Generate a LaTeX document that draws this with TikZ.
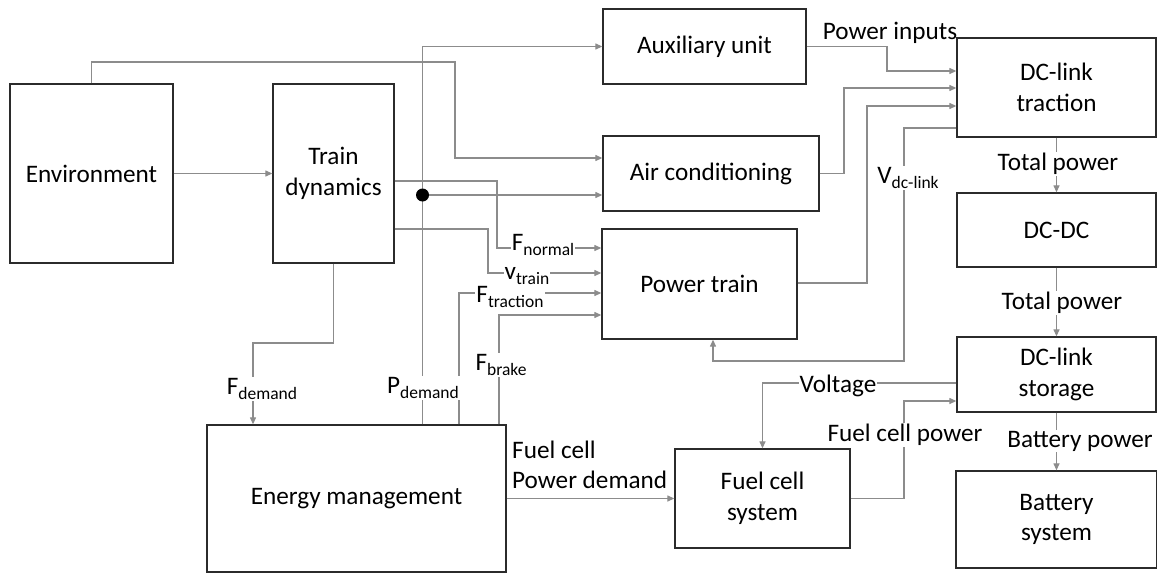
\documentclass[tikz,border=0pt]{standalone}
\usepackage{fontspec}
\setmainfont{Carlito}
\usetikzlibrary{arrows.meta}
\definecolor{ln}{HTML}{8C8C8C}
\definecolor{bd}{HTML}{2B2B2B}
\newcommand{\sbs}[1]{\raisebox{-5.5pt}{\fontsize{17.5}{19}\selectfont #1}}
\begin{document}
\begin{tikzpicture}[x=1pt,y=-1pt,
  box/.style={draw=bd,line width=1.3pt,align=center,inner sep=2pt,font=\fontsize{25.2}{30.5}\selectfont},
  conn/.style={draw=ln,line width=1.2pt},
  arr/.style={conn,-{Triangle[length=7pt,width=6pt]}},
  lbl/.style={fill=white,inner sep=1pt,font=\fontsize{25.2}{30.5}\selectfont}]
\useasboundingbox (0,0) rectangle (1157,573);
% boxes
\node[box,minimum width=163pt,minimum height=179pt] (env) at (91.5,173.5) {Environment};
\node[box,minimum width=121pt,minimum height=179pt] (td) at (333.5,173.5) {Train\\dynamics};
\node[box,minimum width=203pt,minimum height=75pt] (aux) at (704.5,46.5) {Auxiliary unit};
\node[box,minimum width=216pt,minimum height=75pt] (ac) at (711,173.5) {Air conditioning};
\node[box,minimum width=195pt,minimum height=110pt] (pt) at (699.5,284) {Power train};
\node[box,minimum width=199pt,minimum height=99pt] (dct) at (1056.5,87.5) {DC-link\\traction};
\node[box,minimum width=199pt,minimum height=74pt] (dcdc) at (1056.5,230) {DC-DC};
\node[box,minimum width=199pt,minimum height=75pt] (dcs) at (1056.5,374.5) {DC-link\\storage};
\node[box,minimum width=201pt,minimum height=97pt] (bat) at (1056.5,519.5) {Battery\\system};
\node[box,minimum width=299pt,minimum height=147pt] (em) at (356.5,498.5) {Energy management};
\node[box,minimum width=175pt,minimum height=99pt] (fcs) at (762.5,498.5) {Fuel cell\\system};
% connectors
\draw[arr] (env) -- (td);
\draw[arr] (env.north) -- (91.5,62) -- (455,62) -- (455,158) -- (ac.west |- 0,158);
\coordinate (j) at (422.5,195);
\draw[arr] (422.5,0 |- em.north) |- (aux.west);
\draw[arr] (j) -- (ac.west |- j);
\fill[black] (j) circle (6.5);
\draw[arr] (td.east |- 0,181) -| (497,248) -- (pt.west |- 0,248);
\draw[arr] (td.east |- 0,229) -| (488,273) -- (pt.west |- 0,273);
\draw[arr] (459,0 |- em.north) |- (pt.west |- 0,293);
\draw[arr] (499,0 |- em.north) |- (pt.west |- 0,315);
\draw[arr] (td.south) |- (253,343) -- (253,0 |- em.north);
\draw[arr] (em) -- (fcs);
\draw[arr] (aux.east) -| (887,71) -- (dct.west |- 0,71);
\draw[arr] (ac.east) -| (844,88) -- (dct.west |- 0,88);
\draw[arr] (pt.east |- 0,283) -| (867,106) -- (dct.west |- 0,106);
\draw[arr] (dct.west |- 0,128) -| (904,361) -| (713,0 |- pt.south);
\draw[arr] (dct) -- (dcdc);
\draw[arr] (dcdc) -- (dcs);
\draw[arr] (dcs) -- (bat);
\draw[arr] (dcs.west |- 0,383) -| (fcs.north);
\draw[arr] (fcs.east) -| (904,401) -- (dcs.west |- 0,401);
% labels
\node[lbl,fill=none] (lpin) at (890,33) {Power inputs};
\node[lbl] (lfn) at (543,245) {F\sbs{normal}};
\node[lbl] (lvt) at (527,276) {v\sbs{train}};
\node[lbl] (lft) at (510,297) {F\sbs{traction}};
\node[lbl] (lfb) at (501,365) {F\sbs{brake}};
\node[lbl] (lfd) at (262,389) {F\sbs{demand}};
\node[lbl] (lpd) at (423,388) {P\sbs{demand}};
\node[lbl] (lvdc) at (908,178) {V\sbs{dc-link}};
\node[lbl] (ltp1) at (1058,164) {Total power};
\node[lbl] (ltp2) at (1062,303) {Total power};
\node[lbl] (lbp) at (1080,441) {Battery power};
\node[lbl] (lvol) at (838,386) {Voltage};
\node[lbl] (lfcp) at (905,435) {Fuel cell power};
\node[lbl,fill=none,align=left,anchor=west] (lfcd) at (511,465) {Fuel cell\\Power demand};
\end{tikzpicture}
\end{document}
